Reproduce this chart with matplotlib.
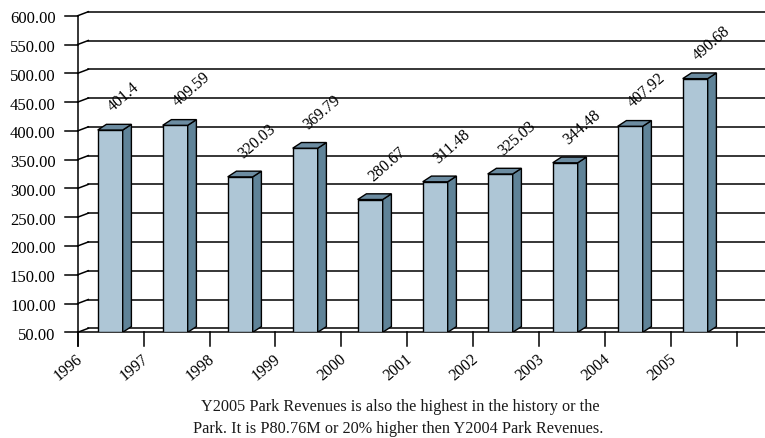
import matplotlib
matplotlib.use("Agg")
import matplotlib.pyplot as plt
from matplotlib.patches import Polygon

# Data
years = ["1996", "1997", "1998", "1999", "2000", "2001", "2002", "2003", "2004", "2005"]
revenues = [401.4, 409.59, 320.03, 369.79, 280.67, 311.48, 325.03, 344.48, 407.92, 490.68]
value_labels = ["401.4", "409.59", "320.03", "369.79", "280.67", "311.48",
                "325.03", "344.48", "407.92", "490.68"]
y_ticks = [50, 100, 150, 200, 250, 300, 350, 400, 450, 500, 550, 600]
caption = ["Y2005 Park Revenues is also the highest in the history or the",
           "Park. It is P80.76M or 20% higher then Y2004 Park Revenues."]

# Layout (pixels)
W, H = 765, 439
X0, STEP = 77.7, 65.9        # x pixel of first tick, pixels per category
Y0, PPU = 333.3, 0.5756      # y pixel (from top) of 50.00, pixels per unit
YMIN = 50

FONT = "Liberation Serif"
FRONT = "#aec6d6"
SIDE = "#5f8398"
TOP = "#6c8ca1"


def px_x(p):
    return p / STEP


def px_y(p):
    return p / PPU


fig = plt.figure(figsize=(W / 100, H / 100), dpi=100)
ax = fig.add_axes([X0 / W, (H - Y0) / H, (W - X0) / W, Y0 / H])
xmax = (W - X0) / STEP
ax.set_xlim(0, xmax)
ax.set_ylim(YMIN, YMIN + px_y(Y0))
ax.axis("off")

# Back wall grid + depth diagonals
gdx, gdy = px_x(10.6), px_y(4.0)
for v in y_ticks:
    ax.plot([0, gdx], [v, v + gdy], color="black", lw=1.1, zorder=1, clip_on=False)
    ax.plot([gdx, xmax], [v + gdy, v + gdy], color="black", lw=1.1, zorder=1, clip_on=False)
    # left tick
    ax.plot([-px_x(12.5), 0], [v, v], color="black", lw=1.1, zorder=1, clip_on=False)
    ax.text(-px_x(22), v - px_y(2.5), f"{v:.2f}", ha="right", va="center",
            fontsize=12, family=FONT, clip_on=False)

# y axis line and front floor line
ax.plot([0, 0], [YMIN - px_y(14), y_ticks[-1]], color="black", lw=1.1, zorder=1, clip_on=False)
ax.plot([0, xmax], [YMIN, YMIN], color="black", lw=1.1, zorder=1, clip_on=False)

# bottom ticks + year labels
for k in range(len(years) + 1):
    ax.plot([k, k], [YMIN, YMIN - px_y(14)], color="black", lw=1.1, zorder=1, clip_on=False)
for k, yr in enumerate(years):
    ax.text(k + px_x(3), YMIN - px_y(24), yr, rotation=40, rotation_mode="anchor",
            ha="right", va="center", fontsize=11.5, family=FONT, clip_on=False)

# 3D-looking bars
bw = px_x(25)
bdx, bdy = px_x(8.7), px_y(5.7)
lefts = [px_x(20 + i * 65.0) for i in range(len(revenues))]
ax.bar(lefts, [v - YMIN for v in revenues], width=bw, bottom=YMIN, align="edge",
       color=FRONT, edgecolor="black", linewidth=1.0, zorder=3)
for x, v, lab in zip(lefts, revenues, value_labels):
    side = Polygon([(x + bw, YMIN), (x + bw + bdx, YMIN + bdy),
                    (x + bw + bdx, v + bdy), (x + bw, v)],
                   closed=True, facecolor=SIDE, edgecolor="black", lw=1.0, zorder=3)
    top = Polygon([(x, v), (x + bdx, v + bdy), (x + bw + bdx, v + bdy), (x + bw, v)],
                  closed=True, facecolor=TOP, edgecolor="black", lw=1.0, zorder=3)
    ax.add_patch(side)
    ax.add_patch(top)
    ax.text(x + bw / 2 + px_x(3), v + px_y(19), lab, rotation=41, rotation_mode="anchor",
            ha="left", va="baseline", fontsize=11.5, family=FONT, clip_on=False)

# caption
fig.text(400 / W, 1 - 407 / H, caption[0], ha="center", va="center",
         fontsize=11.7, family=FONT, color="#1a1a1a")
fig.text(398 / W, 1 - 429 / H, caption[1], ha="center", va="center",
         fontsize=11.7, family=FONT, color="#1a1a1a")

fig.savefig("out.png", dpi=100, facecolor="white")
